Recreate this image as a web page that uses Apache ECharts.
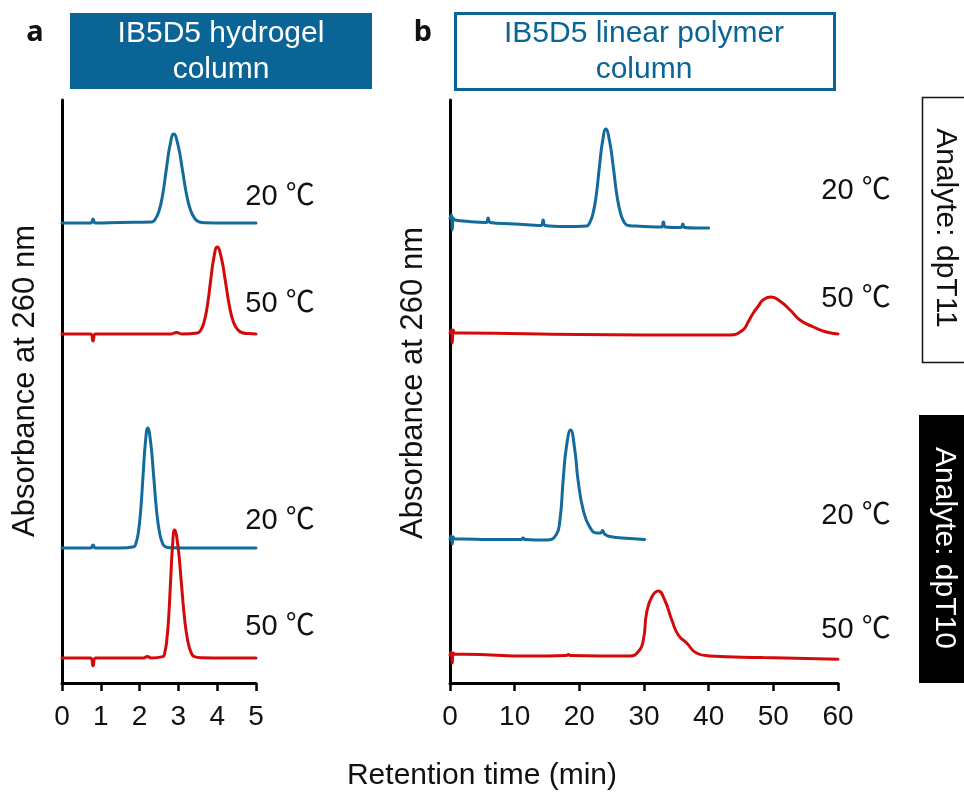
<!DOCTYPE html>
<html>
<head>
<meta charset="utf-8">
<script src="https://cdn.jsdelivr.net/npm/echarts@6/dist/echarts.min.js"></script>
<style>html,body{margin:0;padding:0;background:#fff;}#c{width:964px;height:793px;}</style>
</head>
<body>
<div id="c"></div>
<script>
// ---------- Data (time in min, signal in arbitrary absorbance units) ----------
// Panel a: IB5D5 hydrogel column
const aT11_20_t = [0, 0.74, 0.8, 0.86, 1.5, 2.31, 2.405, 2.5, 2.595, 2.69, 2.785, 2.88, 2.99, 3.10, 3.21, 3.32, 3.43, 3.54, 3.7, 4.2, 5.0];
const aT11_20_y = [0, 0, 0.4, 0, 0.05, 0.1, 0.4, 1.2, 2.85, 5.4, 7.8, 8.9, 7.8, 5.4, 2.85, 1.2, 0.4, 0.1, 0.03, 0, 0];
const aT11_50_t = [0, 0.74, 0.8, 0.86, 1.5, 2.8, 2.95, 3.1, 3.49, 3.575, 3.66, 3.745, 3.83, 3.915, 4.0, 4.105, 4.21, 4.315, 4.42, 4.525, 4.63, 4.8, 5.0];
const aT11_50_y = [0, 0, -0.7, 0, 0, 0, 0.15, 0, 0.1, 0.38, 1.17, 2.8, 5.3, 7.65, 8.7, 7.65, 5.3, 2.8, 1.17, 0.45, 0.15, 0.04, 0];
const aT10_20_t = [0, 0.74, 0.8, 0.86, 1.5, 1.85, 1.91, 1.97, 2.03, 2.09, 2.15, 2.21, 2.285, 2.36, 2.435, 2.51, 2.585, 2.66, 2.8, 3.5, 5.0];
const aT10_20_y = [0, 0, 0.3, 0, 0, 0.13, 0.53, 1.62, 3.84, 7.3, 10.56, 12.0, 10.56, 7.3, 3.84, 1.62, 0.53, 0.13, 0.02, 0, 0];
const aT10_50_t = [0, 0.74, 0.8, 0.86, 1.5, 2.1, 2.2, 2.3, 2.6, 2.65, 2.7, 2.75, 2.8, 2.85, 2.9, 2.985, 3.07, 3.155, 3.24, 3.325, 3.41, 3.6, 4.2, 5.0];
const aT10_50_y = [0, 0, -0.8, 0, 0, 0, 0.15, 0, 0.14, 0.56, 1.73, 4.1, 7.8, 11.3, 12.8, 11.3, 7.8, 4.1, 1.73, 0.56, 0.14, 0.03, 0, 0];
const aOffsets = [46.0, 34.9, 13.5, 2.5];

// Panel b: IB5D5 linear polymer column
const bT11_20_t = [0, 0.2, 0.35, 0.5, 0.8, 2, 5.6, 5.9, 6.2, 10, 14.1, 14.4, 14.7, 18, 21.1, 21.6, 22.1, 22.6, 23.1, 23.6, 24.1, 24.675, 25.25, 25.825, 26.4, 26.975, 27.55, 28.5, 30, 32.7, 33, 33.3, 35.7, 36, 36.3, 38, 40];
const bT11_20_y = [0.9, 1.2, -0.3, 0.9, 0.7, 0.6, 0.45, 0.9, 0.45, 0.3, 0.15, 0.7, 0.15, 0.05, 0.1, 0.43, 1.32, 3.1, 6.0, 8.6, 9.8, 8.6, 6.0, 3.1, 1.32, 0.43, 0.15, 0.1, 0.05, 0.0, 0.5, 0.0, -0.05, 0.3, -0.05, -0.1, -0.1];
const bT11_50_t = [0, 0.2, 0.35, 0.5, 0.8, 2, 20, 40, 43.3, 45.3, 46.1, 46.9, 47.7, 48.4, 49.7, 51.0, 52.6, 54.1, 56.2, 58.2, 60];
const bT11_50_y = [0.2, 0.5, -0.8, 0.5, 0.2, 0.2, 0.05, 0, 0, 0.5, 1.3, 2.2, 2.9, 3.5, 3.8, 3.4, 2.5, 1.5, 0.8, 0.3, 0.1];
const bT10_20_t = [0, 0.2, 0.35, 0.5, 0.8, 2, 6, 11, 11.3, 11.6, 14.9, 16.4, 17.0, 17.5, 18.0, 18.65, 19.3, 19.8, 20.6, 21.6, 22.7, 23.3, 23.6, 23.9, 24.7, 27.8, 30.1];
const bT10_20_y = [0.1, 0.4, -0.4, 0.3, 0.1, 0.1, 0.05, 0.05, 0.2, 0.05, 0, 0.5, 2.0, 6.0, 9.3, 11.0, 9.0, 6.0, 3.0, 1.3, 0.7, 0.7, 0.95, 0.6, 0.35, 0.15, 0.05];
const bT10_50_t = [0, 0.2, 0.35, 0.5, 0.8, 2.1, 12.4, 18.0, 18.3, 18.6, 27.8, 29.1, 29.9, 30.4, 31.2, 32.2, 33.2, 34.3, 35.3, 36.6, 38.1, 40.2, 48.4, 60];
const bT10_50_y = [0.3, 0.6, -0.5, 0.5, 0.37, 0.37, 0.2, 0.25, 0.35, 0.25, 0.2, 0.63, 1.8, 4.5, 6.1, 6.7, 5.8, 3.8, 2.3, 1.5, 0.5, 0.2, 0.05, -0.13];
const bOffsets = [45.6, 34.8, 14.3, 2.5];

const tempLabels = ['20 ℃', '50 ℃', '20 ℃', '50 ℃'];
const aTicks = [0, 5, 1];
const bTicks = [0, 60, 10];

// ---------- Styles ----------
const BLUE = '#136a9c', RED = '#d20a0a', TITLE = '#0a6496';
const FONT = '"Liberation Sans", Arial, "Noto Sans CJK SC", sans-serif';

function pairs(t, y, off) { return t.map((v, i) => [v, y[i] + off]); }

const traces = [
  {g: 0, t: aT11_20_t, y: aT11_20_y, off: aOffsets[0], c: BLUE},
  {g: 0, t: aT11_50_t, y: aT11_50_y, off: aOffsets[1], c: RED},
  {g: 0, t: aT10_20_t, y: aT10_20_y, off: aOffsets[2], c: BLUE},
  {g: 0, t: aT10_50_t, y: aT10_50_y, off: aOffsets[3], c: RED},
  {g: 1, t: bT11_20_t, y: bT11_20_y, off: bOffsets[0], c: BLUE},
  {g: 1, t: bT11_50_t, y: bT11_50_y, off: bOffsets[1], c: RED},
  {g: 1, t: bT10_20_t, y: bT10_20_y, off: bOffsets[2], c: BLUE},
  {g: 1, t: bT10_50_t, y: bT10_50_y, off: bOffsets[3], c: RED}
];

const axisLine = {show: true, lineStyle: {color: '#000', width: 3}};
function xAx(g, r) {
  return {type: 'value', gridIndex: g, min: r[0], max: r[1], interval: r[2],
    axisLine: axisLine, axisTick: {show: true, length: 8, lineStyle: {color: '#000', width: 2.5}},
    axisLabel: {fontSize: 28, color: '#111', fontFamily: FONT, margin: 20},
    splitLine: {show: false}};
}
function yAx(g) {
  return {type: 'value', gridIndex: g, min: 0, max: 58.3,
    axisLine: axisLine, axisTick: {show: false}, axisLabel: {show: false}, splitLine: {show: false}};
}

function txt(x, y, text, size, fill, extra) {
  return Object.assign({type: 'text', x: x, y: y, style: {text: text, fontSize: size, fontFamily: FONT,
    fill: fill, align: 'center', verticalAlign: 'middle', lineHeight: size + 6}}, extra || {});
}
const boldStyle = s => ({text: s, fontSize: 29, fontWeight: 'bold', fontFamily: '"Noto Sans", sans-serif', fill: '#111', align: 'center', verticalAlign: 'middle'});

const graphics = [
  {type: 'text', x: 35, y: 33, style: boldStyle('a')},
  {type: 'text', x: 423, y: 33, style: boldStyle('b')},
  {type: 'rect', shape: {x: 70, y: 13, width: 302, height: 76}, style: {fill: TITLE}},
  txt(221, 52, 'IB5D5 hydrogel\ncolumn', 30, '#fff'),
  {type: 'rect', shape: {x: 455.5, y: 13.5, width: 379, height: 76}, style: {fill: 'none', stroke: TITLE, lineWidth: 3}},
  txt(644, 52, 'IB5D5 linear polymer\ncolumn', 30, TITLE),
  {type: 'rect', shape: {x: 922.5, y: 97.5, width: 60, height: 265}, style: {fill: '#fff', stroke: '#111', lineWidth: 1.5}},
  txt(945, 228, 'Analyte: dpT11', 30, '#111', {rotation: -Math.PI / 2}),
  {type: 'rect', shape: {x: 919, y: 415, width: 60, height: 268}, style: {fill: '#000'}},
  txt(944, 548, 'Analyte: dpT10', 30, '#fff', {rotation: -Math.PI / 2}),
  txt(25, 381, 'Absorbance at 260 nm', 31, '#111', {rotation: Math.PI / 2}),
  txt(413, 383, 'Absorbance at 260 nm', 31, '#111', {rotation: Math.PI / 2}),
  txt(482, 776, 'Retention time (min)', 30, '#111')
];
const aLabelY = [197, 304, 521, 627];
const bLabelY = [191, 299, 516, 630];
tempLabels.forEach((s, i) => {
  graphics.push(txt(280, aLabelY[i], s, 29, '#111'));
  graphics.push(txt(856, bLabelY[i], s, 29, '#111'));
});

const chart = echarts.init(document.getElementById('c'), null, {renderer: 'canvas'});
chart.setOption({
  animation: false,
  backgroundColor: '#fff',
  grid: [
    {left: 62, right: 708, top: 100, bottom: 110, outerBoundsMode: 'none', containLabel: false},
    {left: 450, right: 126, top: 100, bottom: 110, outerBoundsMode: 'none', containLabel: false}
  ],
  xAxis: [xAx(0, aTicks), xAx(1, bTicks)],
  yAxis: [yAx(0), yAx(1)],
  series: traces.map(tr => ({
    type: 'line', xAxisIndex: tr.g, yAxisIndex: tr.g, data: pairs(tr.t, tr.y, tr.off),
    showSymbol: false, smooth: 0.5,
    lineStyle: {color: tr.c, width: 3, join: 'round', cap: 'round'}, itemStyle: {color: tr.c}
  })),
  graphic: graphics
});
</script>
</body>
</html>
